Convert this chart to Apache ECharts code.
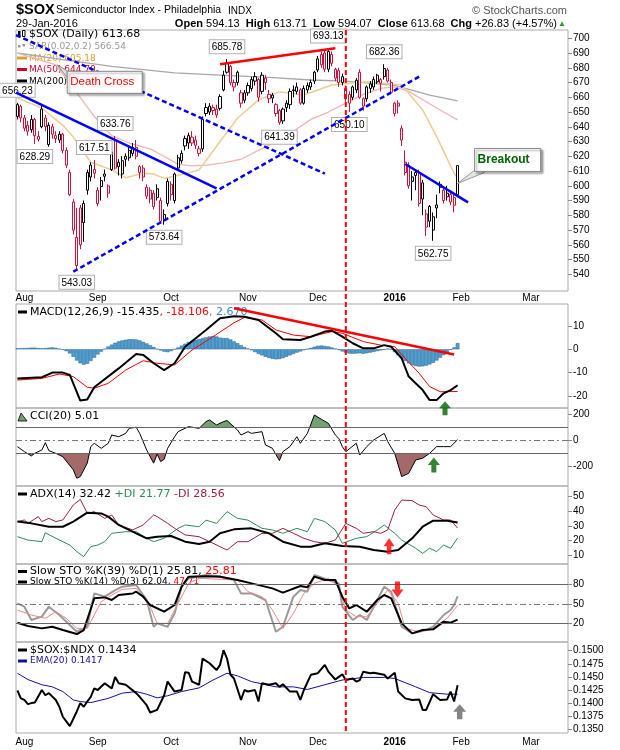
<!DOCTYPE html>
<html>
<head>
<meta charset="utf-8">
<script src="https://cdn.jsdelivr.net/npm/echarts/dist/echarts.min.js"></script>
<style>
html,body{margin:0;padding:0;background:#fff;}
#chart{width:620px;height:750px;}
</style>
</head>
<body>
<div id="chart"></div>
<script>
// ===================== DATA =====================
// trading-day index: 0 = 3-Aug-2015; candles run from index -2 (30-Jul-2015) to 124 (29-Jan-2016)
const firstIndex = -2;
const tickIndex  = [0, 21, 42, 64, 84, 106, 125, 145];
const tickLabels = ['Aug', 'Sep', 'Oct', 'Nov', 'Dec', '2016', 'Feb', 'Mar'];

const openP = [
 647,654,646,641,638,645,631.5,640,646,628,640,634,
 631,635,624,609,589,546,585,575,597,606,
 611,597,599.5,608,600,611,631,613,608,620,
 619,622,626,613,612,599,597,595,598,590,
 577,588,601,590,612,617,627,629,633,631,
 625,625,649,650,651,652,660.5,665,677,681,
 670,670,663,658,663,666,671,672,664,673,
 662,661.5,655,651,644,653,655,665,664,665,
 656,665,667,671,678.5,689,690,679,689,679,
 678,670,666,662,660,665,677,659,659,666,
 667,670.5,672,674,678.5,670,649,656,639,616,
 614,606,609,609,591,581,586,570,585,601,
 597,592.6,594,592,594.13];
const closeP = [
 655,646,639,637,645,634,633.5,652,640,641,635,632,
 635,624,614,594,570,565,560,588,609,614,
 608.5,588,603.5,606.5,595,623,612,616,617,618,
 624,626,620,609,606,593,591,586,592,576,
 580.5,603,594,608,619,622,632,634,629,627.5,
 622,645,653,654,653,648,652.5,675,683,670,
 667,677,656,663,668,672,674,660,675,670,
 659,659.5,649,643,652,656,664,664.5,667,656,
 666,668,670,677,686,682,679,691,683,673,
 670,674,659,656,667,671.5,660,654,667,669,
 672,675,669.5,679.5,671,663.5,656,654,631,609,
 600,603,607,588,602,572,576,579,587,599,
 590,595,589,586.85,613.68];
const lowP = [
 645,643,637,634,636,628.29,630,639,637,626.5,632,629,
 629,622,612,593,567,543.03,557,562,594,603,
 605,586,590,603,592,610,611,607,605,613,
 617,620,618,605,603,591,588,584,590,575,
 573.64,586,590,588,610,615,624,625,627,625,
 620,623,647,648,648,646,651,664,676,668,
 664,668,653,656,661,664,668,657,662,665,
 656,656,647,641.39,642,650,652,660,662,655,
 655,663,665,669,677,680,677,677,681,671,
 667,668,657,650.10,658,663,659,651,657,663,
 665,669,664,672,670,662,647,649,627,607,
 598,590,597,586,580,566,572,562.75,578,595,
 588,590,587,582,594.07];
const highP = [
 656.23,655,648,644,648,646,637,654,648,643,642,637,
 637,636,626,611,591,585,587,590,611,616,
 617.51,599,606,611,601,624,633.76,618,620,622,
 627,629,631,614,614,601,599,597,601,592,
 584,605,603,609,621,624,634,636,637,634,
 627,647,656,656,655,655,662,678,685.78,682,
 672,678,665,665,670,674,677,673,677,675,
 665,663,656,652,653,658,666,668,670,666,
 668,670,672,678,688,691,692,693.13,691,680,
 680,676,668,664,668,673,679,660,668,671,
 674,676,673,682.36,680,672,657,658,641,624,
 616,610,611,611,604,584,587,582,594,603,
 599,600,597,594,613.71];

// overlays: [day index, value]
const ma20Pts  = [[-2,659.5],[5,652.7],[11,641],[14,633],[19,616],[25,610.7],[29,605.5],[34,608.5],[37,608],[40,605],[43,606.5],[50,610.7],[56,630],[61,645.8],[67,658.2],[73,663.8],[80,661.6],[88,668.3],[98,670.6],[108,668.3],[114,651.4],[118,633.3],[123,608.5],[124,605.18]];
const ma50Pts  = [[-2,690],[9,682],[15,663],[20,647],[25,634],[30,629],[36,625],[40,620],[44,614.5],[48,613.5],[52,614],[57,615.5],[62,618],[67,624],[72,630],[77,637],[82,645],[87,650],[92,656],[97,662],[102,666],[106,667],[110,664],[115,657],[120,650],[124,644.7]];
const ma200Pts = [[-2,690],[11,685.5],[25,681],[43,676.5],[56,675],[70,673.5],[82,671.7],[92,671],[106,668],[116,661.5],[124,657.5]];

const priceLabels = [[-2,656.23],[3,628.29],[20,617.51],[26,633.76],[15,543.03],[40,573.64],[58,685.78],[73,641.39],[87,693.13],[93,650.10],[103,682.36],[117,562.75]];

// hand-drawn trend lines: [[x1,y1],[x2,y2]]
const blueSolid1 = [[-2.4,663.2],[55,598.3]];
const blueDash1  = [[-2.4,702.1],[86,608.3]];
const blueDash2  = [[14,541.8],[113,674]];
const redTrend   = [[56,682.4],[89,693.2]];
const blueSolid2 = [[109,614.8],[127,588.8]];
const macdTrend  = [[60,17.6],[123,-2.2]];
const markerDay  = 92;

// MACD
const macdPts   = [[-2,-12.5],[5,-12.0],[8,-10.0],[11,-10.0],[13,-11],[16,-22.0],[18,-21.5],[20,-16.3],[27,-8.2],[32,-2.0],[34,-2.4],[37,-6.0],[40,-8.9],[43,-6.0],[46,1.1],[52,8.3],[56,13.3],[60,14.2],[63,14.0],[67,12.6],[72,6.9],[74,4.3],[79,4.0],[82,5.4],[86,7.6],[88,8.0],[91,5.4],[94,2.6],[97,0.4],[100,0.4],[103,1.8],[105,1.1],[108,-3.9],[110,-11.7],[114,-17.5],[116,-21.8],[118,-21.8],[120,-18.9],[122,-17.5],[124,-15.435]];
const signalPts = [[-2,-13.2],[5,-12.5],[10,-10.6],[14,-11.7],[18,-16.3],[20,-16.7],[24,-14.6],[29,-8.9],[34,-4.9],[38,-6.0],[43,-6.7],[48,-0.3],[54,5.4],[60,11.4],[63,13.7],[68,12.6],[72,8.3],[77,6.1],[82,5.4],[88,7.6],[91,6.9],[97,3.3],[102,1.8],[106,1.1],[109,-3.9],[113,-10.3],[116,-16],[119,-18.2],[124,-18.106]];
const histVals = [
 0.4,0.5,0.5,0.6,0.7,0.7,0.5,0.4,0.5,0.7,0.8,0.6,
 0.2,-0.2,-0.8,-1.8,-3.2,-4.8,-6.0,-6.6,-6.2,-5.0,
 -3.6,-2.2,-1.0,0.2,1.2,2.0,2.8,3.4,3.8,4.1,
 4.3,4.3,4.2,3.8,3.2,2.5,1.8,1.0,0.2,-0.5,
 -1.0,-1.2,-0.8,0.0,0.8,1.6,2.4,3.1,3.7,4.1,
 4.4,4.8,5.2,5.5,5.7,5.5,5.0,4.8,4.8,4.2,
 3.4,2.6,1.8,1.0,0.3,-0.4,-1.2,-2.0,-2.6,-3.2,
 -3.7,-4.1,-4.3,-4.2,-3.8,-3.2,-2.6,-2.0,-1.4,-0.9,
 -0.4,0.1,0.6,1.1,1.5,1.6,1.4,1.2,0.8,0.3,
 -0.3,-0.9,-1.4,-1.8,-1.9,-1.8,-1.7,-1.9,-1.7,-1.4,
 -1.1,-0.8,-0.5,-0.2,0.2,0.0,-1.2,-2.6,-3.8,-5.0,
 -6.0,-6.8,-7.2,-7.4,-7.3,-7.0,-6.5,-5.8,-4.8,-3.6,
 -2.5,-1.3,-0.2,0.8,2.67];

// CCI(20)
const cciPts = [[-2,-49],[0,-88],[2,-121],[3,-100],[5,-75],[6,-18],[7,-80],[9,-101],[11,-127],[14,-229],[15,-294],[16,-281],[18,-177],[19,-49],[20,-23],[22,-62],[24,-23],[25,41],[27,28],[29,54],[30,93],[32,101],[33,54],[35,-75],[37,-177],[38,-106],[39,-165],[40,-147],[41,-62],[43,28],[44,67],[46,93],[47,106],[50,93],[52,145],[53,158],[55,119],[57,145],[58,153],[61,80],[62,41],[64,67],[65,54],[68,67],[69,-36],[71,-62],[73,-157],[74,-88],[76,-49],[78,28],[79,-23],[81,54],[83,196],[85,163],[87,132],[89,41],[90,15],[91,-49],[92,-88],[95,-23],[96,-114],[98,-49],[100,3],[103,54],[104,-10],[106,-101],[108,-281],[110,-256],[112,-152],[114,-139],[116,-101],[118,-49],[120,-49],[122,-49],[124,5.01]];

// ADX(14)
const adxPts = [[-2,33],[2,31.8],[7,29.5],[11,29.5],[14,33],[18,39.1],[22,38.6],[24,36.4],[27,30.7],[32,25],[35,21.6],[38,22.7],[42,23.2],[46,19.3],[50,17.7],[53,19.3],[56,25],[60,27.7],[65,28.4],[70,25],[74,19.3],[79,15.9],[82,15.9],[86,18.2],[91,16.3],[96,15.9],[100,13.6],[104,12.5],[107,13.6],[111,21.6],[114,29.5],[117,33.6],[121,33.6],[124,32.42]];
const pdiPts = [[-2,22.7],[1,20.4],[5,19.3],[6,25.4],[9,21.6],[13,17],[15,12.5],[17,9.1],[19,15.9],[21,17],[23,19.3],[25,25],[29,26.1],[32,26.1],[35,21.6],[37,19.3],[40,21.6],[42,25],[44,28.4],[46,30.7],[50,29.5],[52,34],[55,31.8],[58,39.8],[61,35.2],[64,34],[68,28.4],[71,27.3],[74,25],[78,28.4],[81,26.1],[83,35.2],[86,33],[89,27.3],[91,18.2],[95,21.6],[98,22.7],[101,27.3],[103,30.7],[106,25],[108,20.4],[112,14.8],[114,11.3],[116,14.8],[118,12.5],[120,17],[122,14.8],[124,21.77]];
const mdiPts = [[-2,33],[0,34.1],[1,31.8],[4,36.4],[5,33],[7,35.2],[9,33],[11,34.1],[14,44.3],[16,48.2],[18,38.6],[20,39.8],[23,35.2],[25,37.5],[27,30.7],[31,27.3],[34,30.7],[37,37.5],[38,36.4],[41,31.8],[43,28.4],[46,23.9],[50,22.7],[54,18.2],[58,13.6],[61,19.3],[64,19.3],[68,25],[71,25],[74,28.4],[77,25],[80,21.6],[83,19.3],[86,18.2],[89,20.4],[92,31.8],[95,28.4],[97,25],[100,26.1],[102,25],[104,27.3],[106,40.9],[108,47.7],[111,47.3],[113,44.3],[115,43.2],[117,37.5],[120,34.1],[122,34.1],[124,28.56]];

// Slow stochastics
const stoSlowPts = [[-2,20.9],[1,15.8],[5,12.1],[8,14.7],[11,9.5],[15,3.3],[17,9.5],[20,58.8],[23,60.3],[25,56.2],[27,64],[31,66.5],[32,69.1],[34,61.4],[36,48.4],[40,38],[43,48.4],[45,76.9],[47,92.5],[52,93],[56,92.5],[61,87.3],[65,82.1],[71,74.3],[74,67.6],[79,77.9],[81,75.9],[83,92.5],[86,87.3],[89,87.3],[91,61.4],[93,43.2],[95,48.4],[98,38],[101,56.2],[103,64],[105,58.8],[108,19.9],[111,4.3],[114,9.5],[117,10.6],[120,22.5],[122,20.9],[124,25.81]];
const stoFastK = [[-2,51],[0,45.8],[2,25.1],[5,30.3],[7,45.8],[10,32.8],[13,17.3],[15,6.9],[18,14.7],[20,66.5],[23,61.4],[26,71.7],[28,76.9],[32,79.5],[35,56.2],[37,14.7],[38,19.9],[41,14.7],[43,35.4],[45,76.9],[47,89.9],[52,95],[56,93],[60,87.3],[62,66.5],[65,66.5],[69,56.2],[72,6.9],[74,14.7],[77,61.4],[79,71.7],[81,69.1],[83,95],[87,87.3],[90,82.1],[91,45.8],[94,25.1],[96,32.8],[98,25.1],[101,56.2],[103,76.9],[105,69.1],[108,14.7],[111,4.3],[115,9.5],[117,14.7],[120,32.8],[122,40.6],[123,48.4],[124,62.04]];
const stoFastD = [[-2,40.6],[2,32.8],[6,27.7],[9,38],[12,27.7],[15,12.1],[18,12.1],[22,53.6],[25,64],[28,72.8],[32,74.3],[36,45.8],[38,19.9],[41,19.9],[44,51],[47,82.1],[50,89.9],[61,87.3],[64,69.1],[68,61.4],[71,40.6],[74,12.1],[77,35.4],[80,66.5],[83,82.1],[87,89.9],[90,76.9],[92,40.6],[95,30.3],[98,30.3],[101,51],[104,71.7],[107,51],[109,12.1],[113,6.9],[117,12.1],[121,27.7],[124,47.71]];

// $SOX:$NDX ratio
const ratioPts = [[-2,0.1424],[-1,0.1409],[0,0.1406],[1,0.1398],[2,0.1400],[3,0.1401],[5,0.1425],[6,0.1415],[7,0.1419],[9,0.1406],[10,0.1393],[11,0.1374],[12,0.1365],[13,0.1356],[15,0.1384],[16,0.1400],[17,0.1393],[18,0.1403],[19,0.1412],[20,0.1428],[21,0.1425],[23,0.1438],[25,0.1428],[26,0.1450],[27,0.1438],[29,0.1435],[32,0.1419],[33,0.1412],[35,0.1396],[36,0.1382],[38,0.1387],[40,0.1415],[41,0.1441],[43,0.1422],[45,0.1425],[46,0.1459],[47,0.1458],[48,0.1441],[50,0.1435],[51,0.1485],[53,0.1476],[55,0.1463],[56,0.1473],[57,0.1501],[58,0.1485],[59,0.1454],[60,0.1447],[62,0.1406],[63,0.1425],[64,0.1422],[66,0.1425],[67,0.1403],[68,0.1438],[70,0.1435],[72,0.1438],[73,0.1431],[74,0.1436],[76,0.1422],[78,0.1422],[79,0.1406],[80,0.1425],[82,0.1454],[84,0.1457],[86,0.1473],[87,0.1460],[89,0.1445],[90,0.1450],[91,0.1455],[92,0.1444],[94,0.1447],[95,0.1441],[96,0.1444],[97,0.1460],[99,0.1457],[100,0.1458],[103,0.1454],[104,0.1447],[106,0.1458],[107,0.1422],[109,0.1409],[111,0.1406],[113,0.1407],[114,0.1387],[115,0.1387],[117,0.1417],[119,0.1406],[121,0.1407],[122,0.1422],[123,0.1403],[124,0.1434]];
const ratioEma = [[-2,0.1457],[1,0.1445],[5,0.1435],[8,0.1431],[11,0.1422],[14,0.1406],[16,0.1403],[19,0.1401],[24,0.1409],[28,0.1419],[32,0.1422],[35,0.1417],[38,0.1410],[41,0.1414],[45,0.1422],[50,0.1429],[54,0.1444],[58,0.1457],[61,0.1452],[65,0.1441],[72,0.1431],[77,0.1431],[81,0.1426],[86,0.1435],[91,0.1444],[97,0.1449],[103,0.1449],[106,0.1447],[112,0.1431],[116,0.1420],[121,0.1417],[124,0.1417]];

// axis tick labels
const priceTicks = [540,550,560,570,580,590,600,610,620,630,640,650,660,670,680,690,700];
const macdTicks  = [-20,-10,0,10];
const cciTicks   = [-200,0,200];
const adxTicks   = [10,20,30,40,50];
const stoTicks   = [20,50,80];
const ratioTicks = [0.1350,0.1375,0.1400,0.1425,0.1450,0.1475,0.1500];

// annotation anchors (data coordinates)
const macdArrow  = [120.4, -25.3];
const cciArrow   = [117.2, -191.5];
const adxArrow   = [104.4, 16.2];
const stoArrow   = [106.8, 72.5];
const ratioArrow = [124.6, 0.13834];
const deathCrossAt = [9.4, 682];
const breakoutAt   = [124, 601.6];

// ===================== CHART =====================
const FONT = '"Liberation Sans", Arial, sans-serif';
const LFONT = '"DejaVu Sans", Verdana, sans-serif';
const RED = '#d0103c';
const grids = [
  {top:30, height:261}, {top:304, height:104}, {top:408, height:78},
  {top:486, height:78}, {top:564, height:78}, {top:642, height:91}
];
const yRanges = [[528.7,705.6],[-25.19,19.44],[-354,250.4],[4.06,57.3],[-9.1,112.2],[0.134294,0.15166]];
const yTicks = [priceTicks, macdTicks, cciTicks, adxTicks, stoTicks, ratioTicks];
const yFmt = [v=>String(v), v=>String(v), v=>String(v), v=>String(v), v=>String(v), v=>Number(v).toFixed(4)];

const xAxes = grids.map((g, k) => ({
  type:'value', gridIndex:k, min:-2.4, max:155.6,
  axisLine:{show:false, onZero:false}, axisTick:{show:false}, splitLine:{show:false},
  axisLabel:{
    show: k === 0 || k === 5, customValues: tickIndex, margin: k === 0 ? 2 : 4,
    fontFamily: FONT, fontSize: 10, color:'#000',
    formatter: v => { const j = tickIndex.indexOf(Math.round(v)); const s = tickLabels[j] || ''; return s === '2016' ? '{b|2016}' : s; },
    rich:{b:{fontWeight:'bold', fontFamily:FONT, fontSize:10, color:'#000'}}
  }
}));
const yAxes = grids.map((g, k) => ({
  type:'value', gridIndex:k, position:'right', min:yRanges[k][0], max:yRanges[k][1],
  axisLine:{show:false, onZero:false}, splitLine:{show:false},
  axisTick:{show:true, length:4, customValues:yTicks[k], lineStyle:{color:'#888'}},
  axisLabel:{customValues:yTicks[k], formatter:yFmt[k], margin:5, fontFamily:FONT, fontSize:10, color:'#000'}
}));

function line(g, pts, color, width, extra) {
  return Object.assign({type:'line', xAxisIndex:g, yAxisIndex:g, data:pts, showSymbol:false, symbol:'none',
    lineStyle:{color:color, width:width}, itemStyle:{color:color}, silent:true, z:3}, extra || {});
}
function dashed(g, pts, color, width, z) {
  return line(g, pts, color, width, {lineStyle:{color:color, width:width, type:[5,3]}, z:z||5});
}

const candleData = openP.map((o, k) => {
  const c = closeP[k];
  const prev = k > 0 ? closeP[k-1] : o;
  const col = c < prev ? RED : '#000';
  return {value:[k + firstIndex, o, c, lowP[k], highP[k]],
    itemStyle:{color:'#fff', color0:col, borderColor:col, borderColor0:col}};
});

const labelData = priceLabels.map(p => {
  const idx = p[0] - firstIndex;
  const isHigh = Math.abs(highP[idx] - p[1]) < 1e-6;
  return {coord:[p[0], p[1]], value:p[1].toFixed(2), label:{position: isHigh ? 'top' : 'bottom'}};
});

// CCI fill polygons (regions beyond +/-100)
function regionPolys(pts, level, above) {
  const polys = []; let cur = null;
  const isIn = v => above ? v > level : v < level;
  for (let k = 0; k < pts.length; k++) {
    const x = pts[k][0], v = pts[k][1];
    if (k > 0) {
      const x0 = pts[k-1][0], v0 = pts[k-1][1];
      if (isIn(v0) !== isIn(v)) {
        const t = (level - v0) / (v - v0);
        const xc = x0 + t * (x - x0);
        if (cur) { cur.push([xc, level]); polys.push(cur); cur = null; }
        else { cur = [[xc, level]]; }
      }
    }
    if (isIn(v)) { if (!cur) cur = [[x, level]]; cur.push([x, v]); }
  }
  if (cur) { cur.push([pts[pts.length-1][0], level]); polys.push(cur); }
  return polys;
}
const cciUp = regionPolys(cciPts, 100, true);
const cciDn = regionPolys(cciPts, -100, false);

const UP = 'path://M6,0 L12,7 L8.5,7 L8.5,14 L3.5,14 L3.5,7 L0,7 Z';
const DOWN = 'path://M3.5,0 L8.5,0 L8.5,7 L12,7 L6,14 L0,7 L3.5,7 Z';
function arrow(g, at, path, color, size) {
  return {type:'scatter', xAxisIndex:g, yAxisIndex:g, data:[at], symbol:path, symbolSize:size,
    symbolKeepAspect:false, itemStyle:{color:color}, silent:true, clip:false, z:20};
}

const series = [
  // ---- main ----
  line(0, ma200Pts, '#a8a8a8', 1.3, {z:2}),
  line(0, ma50Pts, '#f2b4b4', 1.3, {z:2}),
  line(0, ma20Pts, '#f0cc94', 1.5, {z:2}),
  {type:'candlestick', xAxisIndex:0, yAxisIndex:0, data:candleData, encode:{x:0, y:[1,2,3,4]},
    barWidth:2.7, itemStyle:{borderWidth:1}, silent:true, z:4,
    markPoint:{symbol:'rect', symbolSize:0, silent:true, data:labelData,
      label:{show:true, formatter:p => p.value, distance:6, fontFamily:FONT, fontSize:10, color:'#000',
        backgroundColor:'#fff', borderColor:'#b0b0b0', borderWidth:1, padding:[2,2,1,2]}}},
  line(0, blueSolid1, '#0000ff', 2.5, {z:6}),
  dashed(0, blueDash1, '#0000ff', 2.5, 6),
  dashed(0, blueDash2, '#0000ff', 2.5, 6),
  line(0, redTrend, '#ff0000', 2.5, {z:6}),
  line(0, blueSolid2, '#0000ff', 2.5, {z:6}),
  // ---- MACD ----
  {type:'bar', xAxisIndex:1, yAxisIndex:1, data:histVals.map((h, k) => [k + firstIndex, h]), barWidth:3.6,
    itemStyle:{color:'#4f9fd2', borderColor:'#24628e', borderWidth:0.5}, silent:true, z:2},
  line(1, signalPts, '#ff0000', 1, {z:3}),
  line(1, macdPts, '#000', 2, {z:4}),
  line(1, macdTrend, '#ff0000', 2.5, {z:5}),
  arrow(1, macdArrow, UP, '#006400', [12,14]),
  // ---- CCI ----
  {type:'custom', xAxisIndex:2, yAxisIndex:2, data:[[0,0]], silent:true, z:2, clip:true,
    renderItem:(params, api) => ({type:'group', children:
      cciUp.map(p => ({type:'polygon', shape:{points:p.map(q => api.coord(q))}, style:{fill:'#74a074'}}))
      .concat(cciDn.map(p => ({type:'polygon', shape:{points:p.map(q => api.coord(q))}, style:{fill:'#a46a6a'}})))})},
  line(2, cciPts, '#000', 1, {z:4, markLine:{silent:true, symbol:['none','none'], label:{show:false},
    lineStyle:{color:'#666', width:1, type:'solid'},
    data:[{yAxis:100}, {yAxis:-100}, {yAxis:0, lineStyle:{color:'#777', width:1, type:[6,3,2,3]}}]}}),
  arrow(2, cciArrow, UP, '#006400', [12,15]),
  // ---- ADX ----
  line(3, pdiPts, '#2e8b57', 1, {z:3}),
  line(3, mdiPts, '#a0203c', 1, {z:3}),
  line(3, adxPts, '#000', 2, {z:4}),
  arrow(3, adxArrow, UP, '#ff0000', [11,16]),
  // ---- STO ----
  line(4, stoFastK, '#9a9a9a', 2, {z:3, markLine:{silent:true, symbol:['none','none'], label:{show:false},
    lineStyle:{color:'#666', width:1, type:'solid'},
    data:[{yAxis:80}, {yAxis:20}, {yAxis:50, lineStyle:{color:'#777', width:1, type:[6,3,2,3]}}]}}),
  line(4, stoFastD, '#f08888', 1, {z:3}),
  line(4, stoSlowPts, '#000', 2, {z:4}),
  arrow(4, stoArrow, DOWN, '#ff0000', [12,16]),
  // ---- ratio ----
  line(5, ratioEma, '#1010a0', 1, {z:3}),
  line(5, ratioPts, '#000', 2, {z:4}),
  arrow(5, ratioArrow, UP, '#666', [13,15])
];

// ---- static texts (title, legends) ----
function rt(x, y, parts, size, align, z, fam) {
  const rich = {}; let s = '';
  const f = fam || FONT;
  parts.forEach((p, k) => {
    rich['p' + k] = {fill:p[1], fontSize:p[3] || size, fontFamily:f, fontWeight:p[2] || 'normal'};
    s += '{p' + k + '|' + p[0] + '}';
  });
  return {type:'text', x:x, y:y, z:z || 1, silent:true,
    style:{text:s, rich:rich, fontSize:size, fontFamily:f, verticalAlign:'middle', align:align || 'left'}};
}
const lg = (x, y, parts, size) => rt(x, y, parts, size, 'left', 1, LFONT);
function seg(x1, y, x2, color, w) {
  return {type:'line', z:1, silent:true, shape:{x1:x1, y1:y, x2:x2, y2:y}, style:{stroke:color, lineWidth:w || 3}};
}
const staticG = [
  rt(16, 10, [['$SOX', '#000', 'bold']], 14.5),
  rt(56, 10.5, [['Semiconductor Index - Philadelphia', '#000']], 10.5),
  rt(228, 11, [['INDX', '#000']], 10),
  rt(567, 10.5, [['© StockCharts.com', '#555']], 11, 'right'),
  rt(16, 23.5, [['29-Jan-2016', '#000']], 11),
  rt(557, 23.5, [['Open', '#000', 'bold'], [' 594.13  ', '#000'], ['High', '#000', 'bold'], [' 613.71  ', '#000'],
    ['Low', '#000', 'bold'], [' 594.07  ', '#000'], ['Close', '#000', 'bold'], [' 613.68  ', '#000'],
    ['Chg', '#000', 'bold'], [' +26.83 (+4.57%)', '#000']], 11, 'right'),
  rt(558, 23.5, [['▲', '#2a9a2a']], 8),
  // main legend
  {type:'rect', z:1, silent:true, shape:{x:18, y:31, width:2.5, height:6}, style:{fill:'#000'}},
  {type:'rect', z:1, silent:true, shape:{x:22.5, y:30.5, width:2.5, height:6}, style:{fill:'#fff', stroke:'#000', lineWidth:1}},
  lg(29, 34.5, [['$SOX (Daily) 613.68', '#000']], 11),
  {type:'rect', z:1, silent:true, shape:{x:18, y:45, width:2.5, height:2.5}, style:{fill:'#999'}},
  {type:'rect', z:1, silent:true, shape:{x:22.5, y:44, width:2.5, height:2.5}, style:{fill:'#999'}},
  lg(29, 46.5, [['SAR(0.02,0.2) 566.54', '#999']], 9),
  seg(17, 58, 27, '#e0a030'),
  lg(29, 58.5, [['MA(20) 605.18', '#e0a030']], 9),
  seg(17, 69.5, 27, '#d00030'),
  lg(29, 70, [['MA(50) 644.70', '#d00030']], 9),
  seg(17, 81, 27, '#000'),
  lg(29, 81.5, [['MA(200)', '#000']], 9),
  // MACD legend
  seg(18, 312, 27, '#000'),
  lg(30, 312, [['MACD(12,26,9) -15.435', '#000'], [', -18.106', '#ff0000'], [', 2.670', '#3a8cc8']], 11),
  // CCI legend
  {type:'polygon', z:1, silent:true, shape:{points:[[18,421],[21,413],[24,417],[27,421]]}, style:{fill:'#74a074', stroke:'#000', lineWidth:0.8}},
  lg(30, 416, [['CCI(20) 5.01', '#000']], 11),
  // ADX legend
  seg(18, 494, 27, '#000'),
  lg(30, 494, [['ADX(14) 32.42 ', '#000'], ['+DI 21.77 ', '#2e8b57'], ['-DI 28.56', '#a0203c']], 11),
  // STO legend
  seg(18, 571.5, 27, '#000'),
  lg(30, 571.5, [['Slow STO %K(39) %D(1) 25.81, ', '#000'], ['25.81', '#ff0000']], 11),
  seg(18, 582, 27, '#000'),
  lg(30, 582, [['Slow STO %K(14) %D(3) 62.04, ', '#000'], ['47.71', '#ff0000']], 9),
  // ratio legend
  seg(18, 650, 27, '#000'),
  lg(30, 650, [['$SOX:$NDX 0.1434', '#000']], 11),
  seg(18, 661, 27, '#1010a0'),
  lg(30, 661, [['EMA(20) 0.1417', '#1010a0']], 9)
];

const chart = echarts.init(document.getElementById('chart'));
chart.setOption({
  animation:false, backgroundColor:'#fff',
  grid: grids.map(g => ({left:16, right:52, top:g.top, height:g.height, show:true, borderColor:'#aaa', borderWidth:1, backgroundColor:'transparent'})),
  xAxis: xAxes, yAxis: yAxes, series: series
});

// ---- annotations positioned through the axes ----
const P = (g, pt) => chart.convertToPixel({gridIndex:g}, pt);
const vx = P(0, [markerDay, 600])[0];
const dc = P(0, deathCrossAt);
const bo = P(0, breakoutAt);
const annot = [
  {type:'line', z:30, silent:true, shape:{x1:vx, y1:30, x2:vx, y2:733}, style:{stroke:'#ff0000', lineWidth:2, lineDash:[5,3]}},
  // Death Cross callout
  {type:'polygon', z:40, silent:true, shape:{points:[[dc[0], dc[1]], [dc[0] + 10, dc[1] + 6], [dc[0] + 10, dc[1] + 13]]}, style:{fill:'#ddd', stroke:'#888', lineWidth:1}},
  {type:'rect', z:40, silent:true, shape:{x:dc[0] + 10, y:dc[1] + 6.5, width:75, height:22},
    style:{fill:'#fff', stroke:'#888', lineWidth:1, shadowBlur:2, shadowOffsetX:2, shadowOffsetY:2, shadowColor:'rgba(0,0,0,0.35)'}},
  rt(dc[0] + 13, dc[1] + 17.5, [['Death Cross', '#ff0000']], 11.5, 'left', 41),
  // Breakout callout
  {type:'polygon', z:40, silent:true, shape:{points:[[bo[0], bo[1]], [bo[0] + 18, bo[1] - 14], [bo[0] + 27, bo[1] - 11]]}, style:{fill:'#e6e6e6', stroke:'#999', lineWidth:1}},
  {type:'rect', z:40, silent:true, shape:{x:bo[0] + 17, y:bo[1] - 35, width:66, height:23},
    style:{fill:'#fff', stroke:'#888', lineWidth:1, shadowBlur:2, shadowOffsetX:2, shadowOffsetY:2, shadowColor:'rgba(0,0,0,0.35)'}},
  rt(bo[0] + 20, bo[1] - 23.5, [['Breakout', '#006400', 'bold']], 12, 'left', 41)
];
chart.setOption({graphic:{elements: staticG.concat(annot)}});
</script>
</body>
</html>
